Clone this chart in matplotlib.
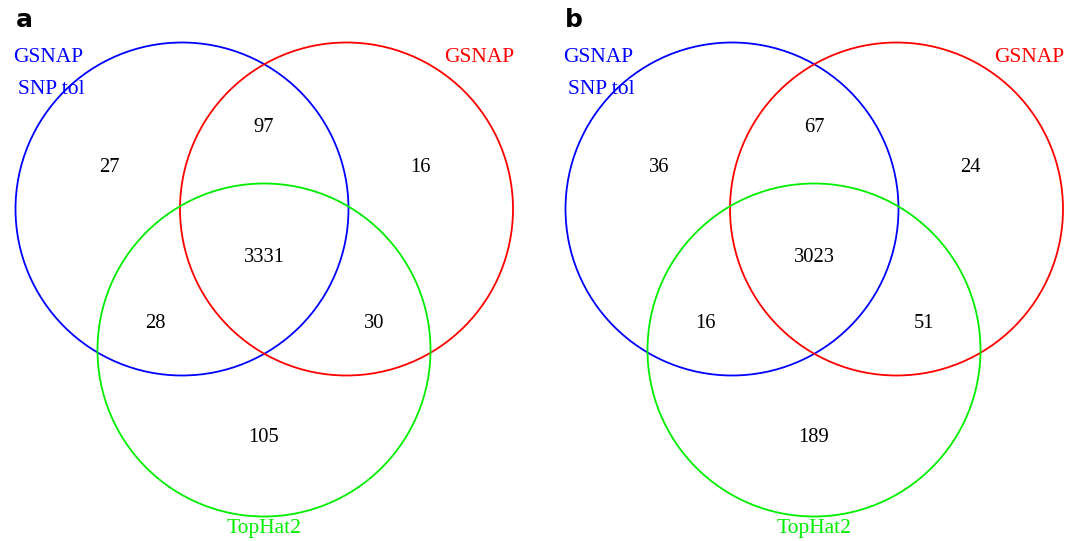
import matplotlib.pyplot as plt
from matplotlib.patches import Circle

# set names and colours
set_names = ["GSNAP\nSNP tol", "GSNAP", "TopHat2"]
set_colors = ["#0000ff", "#ff0000", "#00ee00"]
panels = ["a", "b"]

# region counts: only blue, blue&red, only red, all three, blue&green, red&green, only green
counts_a = [27, 97, 16, 3331, 28, 30, 105]
counts_b = [36, 67, 24, 3023, 16, 51, 189]

plt.rcParams['font.family'] = ['Liberation Serif', 'DejaVu Serif']

fig = plt.figure(figsize=(10.77, 5.41), dpi=100)
ax = fig.add_axes([0, 0, 1, 1])
ax.set_xlim(0, 1077)
ax.set_ylim(541, 0)
ax.set_aspect('equal')
ax.axis('off')

R = 166.5
# offsets of region labels relative to panel origin (centre of green circle x)
region_xy = [(-155, 168), (0, 127), (156, 168), (0, 257),
             (-109, 324), (110, 324), (0, 437)]

def venn(x0, counts, letter):
    centers = [(x0 - 82, 209), (x0 + 82.5, 209), (x0, 350)]
    for (cx, cy), c in zip(centers, set_colors):
        ax.add_patch(Circle((cx, cy), R, fill=False, ec=c, lw=1.3))
    for (dx, y), n in zip(region_xy, counts):
        ax.text(x0 + dx, y, str(n), ha='center', va='center', fontsize=14.8)
    ax.text(x0 - 216, 58, "GSNAP", color=set_colors[0], ha='center',
            va='center', fontsize=15.5)
    ax.text(x0 - 213, 90, "SNP tol", color=set_colors[0], ha='center',
            va='center', fontsize=15.5)
    ax.text(x0 + 215, 58, set_names[1], color=set_colors[1], ha='center',
            va='center', fontsize=15.5)
    ax.text(x0, 528, set_names[2], color=set_colors[2], ha='center',
            va='center', fontsize=15.5)
    ax.text(x0 - 240, 20, letter, fontsize=18, fontweight='bold',
            family='DejaVu Sans', ha='center', va='center')

venn(264, counts_a, panels[0])
venn(814, counts_b, panels[1])

fig.savefig("out.png", dpi=100)
